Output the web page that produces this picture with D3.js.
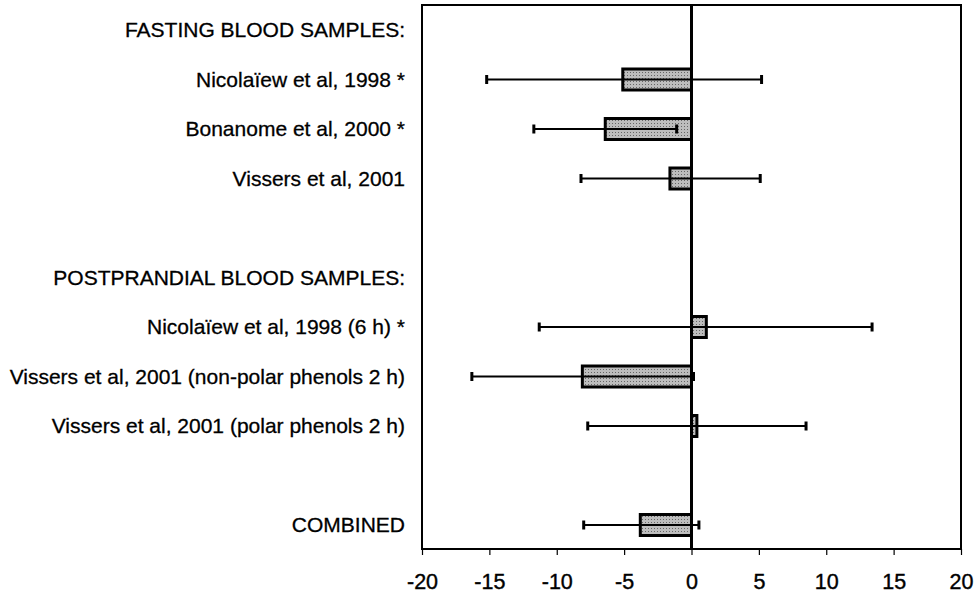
<!DOCTYPE html>
<html>
<head>
<meta charset="utf-8">
<script src="https://cdn.jsdelivr.net/npm/d3@7"></script>
<style>
  body { margin: 0; background: #fff; }
  text { font-family: "Liberation Sans", Arial, sans-serif; fill: #000; }
</style>
</head>
<body>
<div id="chart"></div>
<script>
// rows, top to bottom (blank strings are spacer rows)
var labels = [
  "FASTING BLOOD SAMPLES:",
  "Nicolaïew et al, 1998 *",
  "Bonanome et al, 2000 *",
  "Vissers et al, 2001",
  "",
  "POSTPRANDIAL BLOOD SAMPLES:",
  "Nicolaïew et al, 1998 (6 h) *",
  "Vissers et al, 2001 (non-polar phenols 2 h)",
  "Vissers et al, 2001 (polar phenols 2 h)",
  " ",
  "COMBINED"
];

// studies with a mean and confidence interval
var studies = ["Nicolaïew et al, 1998 *", "Bonanome et al, 2000 *", "Vissers et al, 2001",
  "Nicolaïew et al, 1998 (6 h) *", "Vissers et al, 2001 (non-polar phenols 2 h)",
  "Vissers et al, 2001 (polar phenols 2 h)", "COMBINED"];
var means = [-5.1, -6.4, -1.6, 1.1, -8.1, 0.4, -3.8];
var lower = [-15.2, -11.7, -8.2, -11.3, -16.3, -7.7, -8.0];
var upper = [5.2, -1.1, 5.1, 13.4, 0.15, 8.5, 0.55];

var xTicks = [-20, -15, -10, -5, 0, 5, 10, 15, 20];

window.onload = function(){
  var W = 979, H = 594;
  var left = 422, right = 961, top = 5, bottom = 549;

  var svg = d3.select("#chart").append("svg")
      .attr("width", W)
      .attr("height", H);

  var defs = svg.append("defs");
  var pat = defs.append("pattern")
      .attr("id", "dots")
      .attr("width", 3)
      .attr("height", 3)
      .attr("patternUnits", "userSpaceOnUse");
  pat.append("rect").attr("width", 3).attr("height", 3).attr("fill", "#bdbdbd");
  pat.append("rect").attr("width", 1).attr("height", 1).attr("fill", "#666");

  var x = d3.scaleLinear()
      .domain([-20, 20])
      .range([left, right]);

  var y = d3.scalePoint()
      .domain(labels)
      .range([30, 525]);

  // frame
  svg.append("rect")
      .attr("x", left)
      .attr("y", top)
      .attr("width", right - left)
      .attr("height", bottom - top)
      .attr("fill", "none")
      .attr("stroke", "#000")
      .attr("stroke-width", 2);

  // x axis
  var xAxis = d3.axisBottom(x)
      .tickValues(xTicks)
      .tickSize(6)
      .tickPadding(19)
      .tickFormat(function(d){ return String(d); });

  var ax = svg.append("g")
      .attr("transform", "translate(0," + bottom + ")")
      .call(xAxis);
  ax.select(".domain").remove();
  ax.selectAll(".tick line").attr("stroke", "#000").attr("stroke-width", 1.2);
  ax.selectAll(".tick text")
      .attr("font-size", "21.5px")
      .attr("font-family", "Liberation Sans, Arial, sans-serif")
      .attr("fill", "#000")
      .attr("stroke", "#000")
      .attr("stroke-width", 0.4);

  // row labels
  svg.append("g").selectAll("text")
      .data(labels)
    .enter().append("text")
      .attr("x", 405)
      .attr("y", function(d){ return y(d) + 7; })
      .attr("text-anchor", "end")
      .attr("font-size", "21px")
      .attr("stroke", "#000")
      .attr("stroke-width", 0.3)
      .text(function(d){ return d.trim(); });

  var barH = 21;
  var g = svg.append("g");

  // bars
  g.selectAll("rect.bar")
      .data(studies)
    .enter().append("rect")
      .attr("class", "bar")
      .attr("x", function(d, i){ return x(Math.min(0, means[i])); })
      .attr("y", function(d){ return y(d) - barH / 2; })
      .attr("width", function(d, i){ return Math.abs(x(means[i]) - x(0)); })
      .attr("height", barH)
      .attr("fill", "url(#dots)")
      .attr("stroke", "#000")
      .attr("stroke-width", 3);

  // zero line
  svg.append("line")
      .attr("x1", x(0))
      .attr("x2", x(0))
      .attr("y1", top)
      .attr("y2", bottom)
      .attr("stroke", "#000")
      .attr("stroke-width", 3);

  // error bars
  g.selectAll("line.err")
      .data(studies)
    .enter().append("line")
      .attr("class", "err")
      .attr("x1", function(d, i){ return x(lower[i]); })
      .attr("x2", function(d, i){ return x(upper[i]); })
      .attr("y1", function(d){ return y(d); })
      .attr("y2", function(d){ return y(d); })
      .attr("stroke", "#000")
      .attr("stroke-width", 2);

  var caps = [];
  studies.forEach(function(d, i){
    caps.push({row: d, v: lower[i]});
    caps.push({row: d, v: upper[i]});
  });

  g.selectAll("line.cap")
      .data(caps)
    .enter().append("line")
      .attr("class", "cap")
      .attr("x1", function(d){ return x(d.v); })
      .attr("x2", function(d){ return x(d.v); })
      .attr("y1", function(d){ return y(d.row) - 4.5; })
      .attr("y2", function(d){ return y(d.row) + 4.5; })
      .attr("stroke", "#000")
      .attr("stroke-width", 3);
};
</script>
</body>
</html>
